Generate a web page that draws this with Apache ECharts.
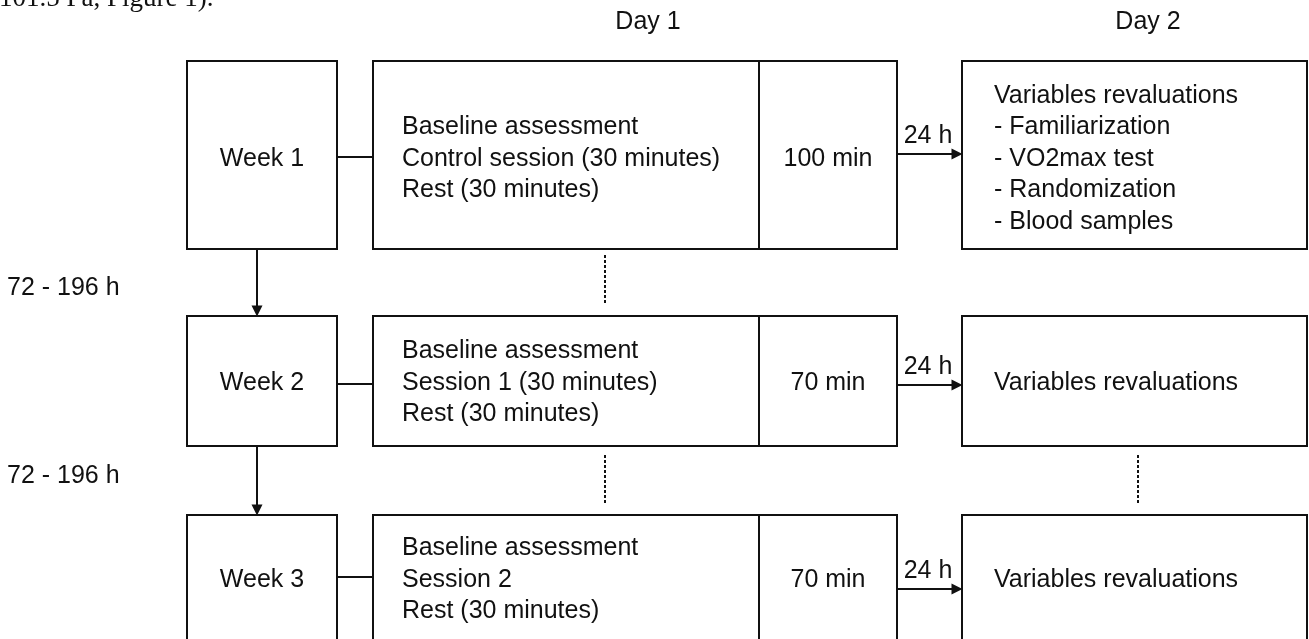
<!DOCTYPE html>
<html>
<head>
<meta charset="utf-8">
<script src="https://cdn.jsdelivr.net/npm/echarts@6/dist/echarts.min.js"></script>
<style>
html,body{margin:0;padding:0;background:#fff;}
#c{width:1309px;height:639px;}
</style>
</head>
<body>
<div id="c"></div>
<script>
// ---- content ----
const topText = '101.5 Pa, Figure 1).';
const dayHeaders = ['Day 1', 'Day 2'];
const weeks = ['Week 1', 'Week 2', 'Week 3'];
const day1Lines = [
  ['Baseline assessment', 'Control session (30 minutes)', 'Rest (30 minutes)'],
  ['Baseline assessment', 'Session 1 (30 minutes)', 'Rest (30 minutes)'],
  ['Baseline assessment', 'Session 2', 'Rest (30 minutes)']
];
const durations = ['100 min', '70 min', '70 min'];
const day2Lines = [
  ['Variables revaluations', '- Familiarization', '- VO2max test', '- Randomization', '- Blood samples'],
  ['Variables revaluations'],
  ['Variables revaluations']
];
const gapLabels = ['72 - 196 h', '72 - 196 h'];
const arrowLabels = ['24 h', '24 h', '24 h'];

// ---- layout (diagram units = pixels) ----
const W = 1309, H = 639;
const rowTop = [61, 316, 515];
const rowBot = [249, 446, 641];
const textCy = [157, 381, 578];
const colWeek = [187, 337], colDay1 = [373, 759], colDur = [759, 897], colDay2 = [962, 1307];
const connY = [157, 384, 577];
const arrowY = [154, 385, 589];
const LH = 31.5;
const DY = 2;
const FONT = '25px "Liberation Sans", Arial, sans-serif';
const INK = '#111';

// boxes
const boxes = [];
for (let r = 0; r < 3; r++) {
  boxes.push([colWeek[0], rowTop[r], colWeek[1], rowBot[r]]);
  boxes.push([colDay1[0], rowTop[r], colDay1[1], rowBot[r]]);
  boxes.push([colDur[0], rowTop[r], colDur[1], rowBot[r]]);
  boxes.push([colDay2[0], rowTop[r], colDay2[1], rowBot[r]]);
}

// texts
const texts = [];
texts.push({t: topText, x: -1, y: -1, align: 'left', font: '27px "Liberation Serif", "Times New Roman", serif'});
texts.push({t: dayHeaders[0], x: 648, y: 22, align: 'center'});
texts.push({t: dayHeaders[1], x: 1148, y: 22, align: 'center'});
for (let r = 0; r < 3; r++) {
  const cy = textCy[r] + DY;
  texts.push({t: weeks[r], x: (colWeek[0] + colWeek[1]) / 2, y: cy, align: 'center'});
  const l1 = day1Lines[r];
  l1.forEach((s, i) => texts.push({t: s, x: 402, y: cy + (i - (l1.length - 1) / 2) * LH, align: 'left'}));
  texts.push({t: durations[r], x: (colDur[0] + colDur[1]) / 2, y: cy, align: 'center'});
  const l2 = day2Lines[r];
  l2.forEach((s, i) => texts.push({t: s, x: 994, y: cy + (i - (l2.length - 1) / 2) * LH, align: 'left'}));
  texts.push({t: arrowLabels[r], x: 928, y: arrowY[r] - 20 + DY, align: 'center'});
}
texts.push({t: gapLabels[0], x: 7, y: 286 + DY, align: 'left'});
texts.push({t: gapLabels[1], x: 7, y: 474 + DY, align: 'left'});

// connectors (plain)
const plain = [];
for (let r = 0; r < 3; r++) plain.push({coords: [[colWeek[1], connY[r]], [colDay1[0], connY[r]]]});
// arrows
const arrows = [];
for (let r = 0; r < 3; r++) arrows.push({coords: [[colDur[1], arrowY[r]], [colDay2[0] - 5, arrowY[r]]]});
arrows.push({coords: [[257, rowBot[0]], [257, rowTop[1] - 5]]});
arrows.push({coords: [[257, rowBot[1]], [257, rowTop[2] - 5]]});
// dotted
const dotted = [
  {coords: [[605, 255], [605, 304]]},
  {coords: [[605, 455], [605, 504]]},
  {coords: [[1138, 455], [1138, 504]]}
];

const chart = echarts.init(document.getElementById('c'), null, {renderer: 'canvas'});
chart.setOption({
  backgroundColor: '#fff',
  animation: false,
  grid: {left: 0, right: 0, top: 0, bottom: 0},
  xAxis: {type: 'value', min: 0, max: W, show: false},
  yAxis: {type: 'value', min: 0, max: H, inverse: true, show: false},
  series: [
    {
      type: 'custom',
      coordinateSystem: 'cartesian2d',
      clip: false,
      data: boxes,
      renderItem: function (params, api) {
        const p0 = api.coord([api.value(0), api.value(1)]);
        const p1 = api.coord([api.value(2), api.value(3)]);
        return {
          type: 'rect',
          shape: {x: p0[0], y: p0[1], width: p1[0] - p0[0], height: p1[1] - p0[1]},
          style: {fill: 'none', stroke: INK, lineWidth: 2}
        };
      }
    },
    {
      type: 'lines',
      coordinateSystem: 'cartesian2d',
      data: plain,
      symbol: ['none', 'none'],
      lineStyle: {color: INK, width: 2, opacity: 1, curveness: 0}
    },
    {
      type: 'lines',
      coordinateSystem: 'cartesian2d',
      data: arrows,
      symbol: ['none', 'triangle'],
      symbolSize: [9, 11],
      lineStyle: {color: INK, width: 2, opacity: 1, curveness: 0},
      itemStyle: {color: INK}
    },
    {
      type: 'lines',
      coordinateSystem: 'cartesian2d',
      data: dotted,
      symbol: ['none', 'none'],
      lineStyle: {color: INK, width: 2, type: [3, 2], opacity: 1, curveness: 0}
    },
    {
      type: 'custom',
      coordinateSystem: 'cartesian2d',
      clip: false,
      data: texts.map(d => [d.x, d.y]),
      renderItem: function (params, api) {
        const d = texts[params.dataIndex];
        const p = api.coord([api.value(0), api.value(1)]);
        return {
          type: 'text',
          x: p[0], y: p[1],
          style: {
            text: d.t,
            font: d.font || FONT,
            fill: INK,
            align: d.align,
            verticalAlign: 'middle'
          }
        };
      }
    }
  ]
});
</script>
</body>
</html>
